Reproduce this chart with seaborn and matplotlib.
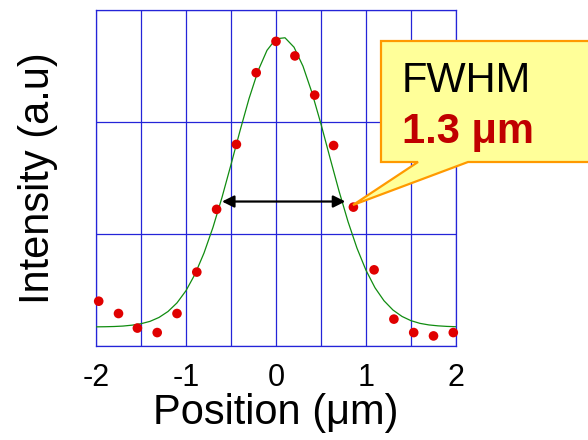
import matplotlib
matplotlib.use("Agg")
import matplotlib.pyplot as plt
from matplotlib.patches import Polygon
import seaborn as sns
import pandas as pd

x_pos = [-1.97, -1.75, -1.54, -1.32, -1.10, -0.88, -0.66, -0.44, -0.22, 0.0,
         0.21, 0.43, 0.64, 0.86, 1.09, 1.31, 1.53, 1.75, 1.97]
intensity = [0.40, 0.29, 0.16, 0.12, 0.29, 0.66, 1.22, 1.80, 2.44, 2.72,
             2.59, 2.24, 1.79, 1.24, 0.68, 0.24, 0.12, 0.09, 0.12]

fit_x = [-2.0, -1.9, -1.8, -1.7, -1.6, -1.5, -1.4, -1.3, -1.2, -1.1, -1.0,
         -0.9, -0.8, -0.7, -0.6, -0.5, -0.4, -0.3, -0.2, -0.1, 0.0,
         0.1, 0.2, 0.3, 0.4, 0.5, 0.6, 0.7, 0.8, 0.9, 1.0,
         1.1, 1.2, 1.3, 1.4, 1.5, 1.6, 1.7, 1.8, 1.9, 2.0]
fit_y = [0.171, 0.172, 0.174, 0.178, 0.186, 0.199, 0.220, 0.255, 0.308, 0.385, 0.494,
         0.641, 0.830, 1.060, 1.327, 1.620, 1.921, 2.208, 2.456, 2.640, 2.743,
         2.752, 2.668, 2.498, 2.261, 1.981, 1.680, 1.384, 1.111, 0.873, 0.676,
         0.520, 0.404, 0.321, 0.264, 0.226, 0.202, 0.188, 0.180, 0.175, 0.172]

# FWHM arrow
fwhm_left = -0.60
fwhm_right = 0.77
fwhm_level = 1.29

tick_pos = [-2, -1.5, -1, -0.5, 0, 0.5, 1, 1.5, 2]
tick_labels = ["-2", "", "-1", "", "0", "", "1", "", "2"]

points = pd.DataFrame({"x": x_pos, "y": intensity})
fit = pd.DataFrame({"x": fit_x, "y": fit_y})

sns.set_style("white")
plt.rcParams["font.family"] = ["Liberation Sans", "DejaVu Sans"]
plt.rcParams["axes.unicode_minus"] = False
plt.rcParams["text.color"] = "black"
plt.rcParams["axes.labelcolor"] = "black"
plt.rcParams["xtick.color"] = "black"

W, H = 588, 440
fig = plt.figure(figsize=(W / 100, H / 100), dpi=100)
ax = fig.add_axes([96 / W, 1 - 346 / H, 360 / W, 336 / H])

grid_blue = "#2424D8"

sns.lineplot(data=fit, x="x", y="y", color="#108C10", lw=0.9, ax=ax, zorder=3)
sns.scatterplot(data=points, x="x", y="y", color="#E00000", s=48,
                edgecolor="none", ax=ax, zorder=4, clip_on=False)

ax.annotate("", xy=(fwhm_right, fwhm_level), xytext=(fwhm_left, fwhm_level),
            arrowprops=dict(arrowstyle="<|-|>", color="black", lw=1.6,
                            mutation_scale=18, shrinkA=0, shrinkB=0),
            zorder=5)

ax.set_xlim(-2, 2)
ax.set_ylim(0, 3)
ax.set_xticks(tick_pos)
ax.set_xticklabels(tick_labels)
ax.set_yticks([0, 1, 2, 3])
ax.set_yticklabels([])
ax.grid(True, color=grid_blue, lw=0.9)
for s in ax.spines.values():
    s.set_color(grid_blue)
    s.set_linewidth(0.9)
ax.tick_params(axis="x", length=0, pad=12, labelsize=22, labelcolor="black")
ax.tick_params(axis="y", length=0)
ax.set_xlabel("Position (\u03bcm)", fontsize=30, labelpad=0, color="black")
ax.set_ylabel("Intensity (a.u)", fontsize=30, labelpad=24, color="black")


def px(x, y):
    return (x / W, 1 - y / H)


# callout box with pointer to the half-maximum point
callout = [px(381, 41), px(600, 41), px(600, 162), px(468, 162),
           px(353, 205), px(418, 162), px(381, 162)]
fig.patches.append(Polygon(callout, closed=True, transform=fig.transFigure,
                           facecolor="#FFFF99", edgecolor="#FF9900", lw=1.6,
                           zorder=6))
fig.text(*px(402, 92), "FWHM", fontsize=30, color="black", va="baseline", zorder=7)
fig.text(*px(402, 143), "1.3 \u03bcm", fontsize=30, color="#C00000",
         fontweight="bold", va="baseline", zorder=7)

fig.savefig("out.png", dpi=100)
